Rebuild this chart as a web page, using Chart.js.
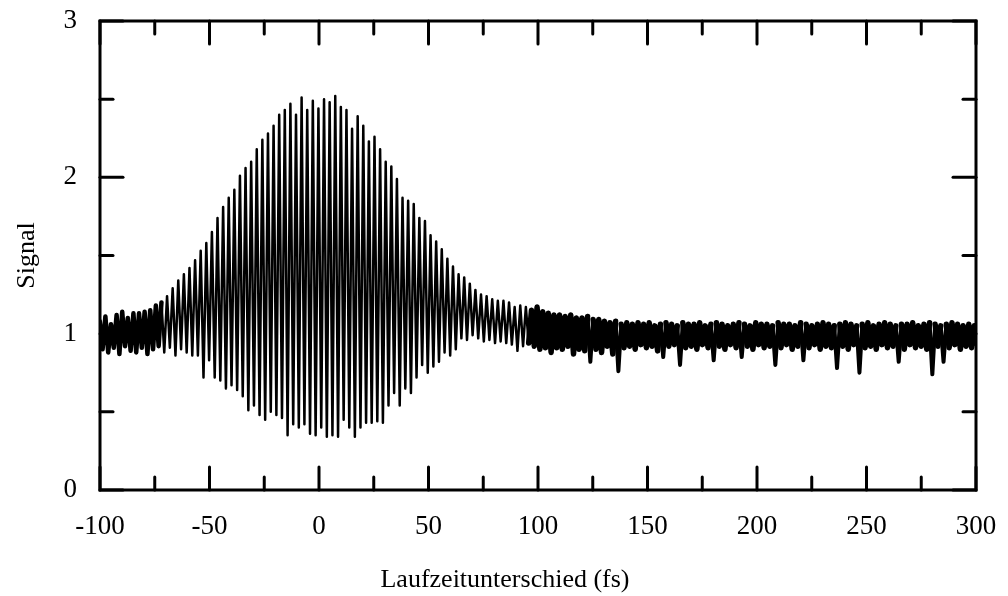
<!DOCTYPE html>
<html>
<head>
<meta charset="utf-8">
<script src="https://cdn.jsdelivr.net/npm/chart.js@4.4.1/dist/chart.umd.min.js"></script>
<style>
  html, body { margin: 0; padding: 0; background: #fff; }
  #wrap { width: 1008px; height: 596px; }
</style>
</head>
<body>
<div id="wrap"><canvas id="chart" width="1008" height="596"></canvas></div>
<script>
// fringe grid of the autocorrelation trace (fs)
const firstFringeDelay = -100.1;
const fringePeriod = 2.56;

// upper turning point of each fringe
const fringePeaks = [
  1.08, 1.11, 1.06, 1.12, 1.14, 1.10, 1.13, 1.13, 1.14, 1.15,
  1.18, 1.20, 1.24, 1.29, 1.34, 1.38, 1.42, 1.47, 1.53, 1.58,
  1.65, 1.74, 1.81, 1.87, 1.92, 2.01, 2.06, 2.10, 2.18, 2.24,
  2.28, 2.33, 2.40, 2.43, 2.47, 2.40, 2.51, 2.43, 2.49, 2.44,
  2.50, 2.48, 2.52, 2.45, 2.43, 2.31, 2.39, 2.33, 2.23, 2.26,
  2.18, 2.10, 2.07, 1.99, 1.87, 1.85, 1.83, 1.74, 1.72, 1.63,
  1.59, 1.54, 1.48, 1.43, 1.38, 1.36, 1.32, 1.28, 1.25, 1.24,
  1.22, 1.21, 1.21, 1.20, 1.17, 1.18, 1.17, 1.15, 1.17, 1.14,
  1.13, 1.12, 1.12, 1.11, 1.12, 1.10, 1.10, 1.11, 1.09, 1.09,
  1.08, 1.07, 1.08, 1.06, 1.07, 1.06, 1.07, 1.06, 1.07, 1.05,
  1.06, 1.07, 1.06, 1.05, 1.07, 1.06, 1.06, 1.07, 1.05, 1.06,
  1.07, 1.06, 1.05, 1.06, 1.07, 1.06, 1.05, 1.07, 1.06, 1.06,
  1.05, 1.07, 1.06, 1.06, 1.05, 1.07, 1.06, 1.05, 1.06, 1.07,
  1.06, 1.05, 1.06, 1.07, 1.06, 1.05, 1.06, 1.07, 1.05, 1.06,
  1.07, 1.06, 1.05, 1.06, 1.06, 1.07, 1.05, 1.06, 1.07, 1.06,
  1.05, 1.06, 1.07, 1.06, 1.05, 1.06, 1.05
];

// lower turning point of each fringe
const fringeTroughs = [
  0.90, 0.88, 0.91, 0.87, 0.92, 0.89, 0.88, 0.91, 0.87, 0.90,
  0.92, 0.88, 0.91, 0.86, 0.90, 0.88, 0.86, 0.86, 0.72, 0.83,
  0.72, 0.70, 0.65, 0.67, 0.64, 0.60, 0.51, 0.54, 0.48, 0.45,
  0.50, 0.48, 0.46, 0.35, 0.42, 0.40, 0.42, 0.36, 0.35, 0.40,
  0.34, 0.35, 0.34, 0.45, 0.40, 0.34, 0.40, 0.43, 0.43, 0.44,
  0.43, 0.54, 0.62, 0.54, 0.65, 0.62, 0.72, 0.80, 0.75, 0.79,
  0.82, 0.88, 0.86, 0.90, 0.97, 0.96, 0.99, 0.97, 0.95, 0.96,
  0.94, 0.95, 0.94, 0.93, 0.89, 0.92, 0.94, 0.92, 0.90, 0.91,
  0.88, 0.91, 0.90, 0.92, 0.87, 0.90, 0.89, 0.82, 0.90, 0.88,
  0.92, 0.87, 0.76, 0.91, 0.92, 0.90, 0.93, 0.91, 0.92, 0.89,
  0.85, 0.92, 0.93, 0.80, 0.91, 0.92, 0.90, 0.93, 0.91, 0.83,
  0.92, 0.90, 0.93, 0.91, 0.85, 0.92, 0.90, 0.93, 0.91, 0.92,
  0.80, 0.91, 0.93, 0.90, 0.92, 0.83, 0.91, 0.93, 0.90, 0.92,
  0.91, 0.78, 0.92, 0.90, 0.93, 0.75, 0.91, 0.92, 0.90, 0.93,
  0.91, 0.92, 0.82, 0.90, 0.93, 0.91, 0.92, 0.90, 0.74, 0.92,
  0.82, 0.91, 0.93, 0.90, 0.92, 0.91, 0.93
];

const xTickValues = [-100, -50, 0, 50, 100, 150, 200, 250, 300];
const xMinorTicks = [-75, -25, 25, 75, 125, 175, 225, 275];
const yTickValues = [0, 1, 2, 3];
const yMinorTicks = [0.5, 1.5, 2.5];

const xTitle = 'Laufzeitunterschied (fs)';
const yTitle = 'Signal';

// zig-zag through the turning points
const points = [];
fringePeaks.forEach((peak, i) => {
  const d = firstFringeDelay + i * fringePeriod;
  points.push({ x: d, y: peak });
  points.push({ x: d + fringePeriod / 2, y: fringeTroughs[i] });
});

const serif = "'Liberation Serif', 'Times New Roman', serif";

// box frame with inward ticks on all four sides
const frameTicks = {
  id: 'frameTicks',
  afterDatasetsDraw(chart) {
    const { ctx, chartArea: a, scales: { x, y } } = chart;
    ctx.save();
    ctx.strokeStyle = '#000';
    ctx.lineWidth = 3;
    ctx.lineJoin = 'miter';
    ctx.strokeRect(a.left, a.top, a.right - a.left, a.bottom - a.top);
    ctx.lineCap = 'round';
    const seg = (x1, y1, x2, y2) => {
      ctx.beginPath();
      ctx.moveTo(x1, y1);
      ctx.lineTo(x2, y2);
      ctx.stroke();
    };
    const xMarks = (vals, len) => vals.forEach(v => {
      const px = x.getPixelForValue(v);
      seg(px, a.bottom, px, a.bottom - len);
      seg(px, a.top, px, a.top + len);
    });
    const yMarks = (vals, len) => vals.forEach(v => {
      const py = y.getPixelForValue(v);
      seg(a.left, py, a.left + len, py);
      seg(a.right, py, a.right - len, py);
    });
    xMarks(xTickValues, 23);
    xMarks(xMinorTicks, 13);
    yMarks(yTickValues, 23);
    yMarks(yMinorTicks, 13);
    ctx.restore();
  }
};

// dense wings of the trace look like a solid band, dips stay thinner
const segWidth = ctx => {
  const x0 = ctx.p0.parsed.x;
  const low = Math.min(ctx.p0.parsed.y, ctx.p1.parsed.y);
  if (x0 > 95) return low < 0.87 ? 4 : 5.5;
  if (x0 < -72) return 4.5;
  return 2.5;
};

new Chart(document.getElementById('chart'), {
  type: 'line',
  data: {
    datasets: [{
      data: points,
      borderColor: '#000',
      borderWidth: 2.5,
      borderJoinStyle: 'round',
      borderCapStyle: 'round',
      segment: { borderWidth: segWidth },
      pointRadius: 0,
      tension: 0,
      fill: false
    }]
  },
  options: {
    responsive: false,
    animation: false,
    devicePixelRatio: 1,
    parsing: false,
    layout: { padding: { left: 2, right: 0, top: 21, bottom: 0 } },
    plugins: {
      legend: { display: false },
      tooltip: { enabled: false },
      title: {
        display: true,
        text: yTitle,
        position: 'left',
        fullSize: false,
        color: '#000',
        font: { family: serif, size: 26, weight: 'normal', lineHeight: 1.2 },
        padding: { top: 10, bottom: 0 }
      },
      subtitle: {
        display: true,
        text: xTitle,
        position: 'bottom',
        color: '#000',
        font: { family: serif, size: 26, weight: 'normal', lineHeight: 1.2 },
        padding: { top: 4, bottom: 0 }
      }
    },
    scales: {
      x: {
        type: 'linear',
        min: -100,
        max: 300,
        afterBuildTicks: s => { s.ticks = xTickValues.map(v => ({ value: v })); },
        afterFit: s => {
          s.height = 596 - 490 - 35.2;
          s.paddingLeft = 0;
          s.paddingRight = 0;
        },
        grid: { display: false, drawTicks: false },
        border: { display: false },
        ticks: { color: '#000', padding: 21, maxRotation: 0, autoSkip: false,
                 font: { family: serif, size: 27 } }
      },
      y: {
        type: 'linear',
        min: 0,
        max: 3,
        afterBuildTicks: s => { s.ticks = yTickValues.map(v => ({ value: v })); },
        afterFit: s => {
          s.width = 100 - 2 - 41.2;
          s.paddingTop = 0;
          s.paddingBottom = 0;
        },
        grid: { display: false, drawTicks: false },
        border: { display: false },
        ticks: { color: '#000', padding: 23, font: { family: serif, size: 27 } }
      },
      yRight: {
        type: 'linear',
        position: 'right',
        afterFit: s => {
          s.width = 32;
          s.paddingTop = 0;
          s.paddingBottom = 0;
        },
        grid: { display: false, drawTicks: false },
        border: { display: false },
        ticks: { display: false }
      }
    }
  },
  plugins: [frameTicks]
});
</script>
</body>
</html>
